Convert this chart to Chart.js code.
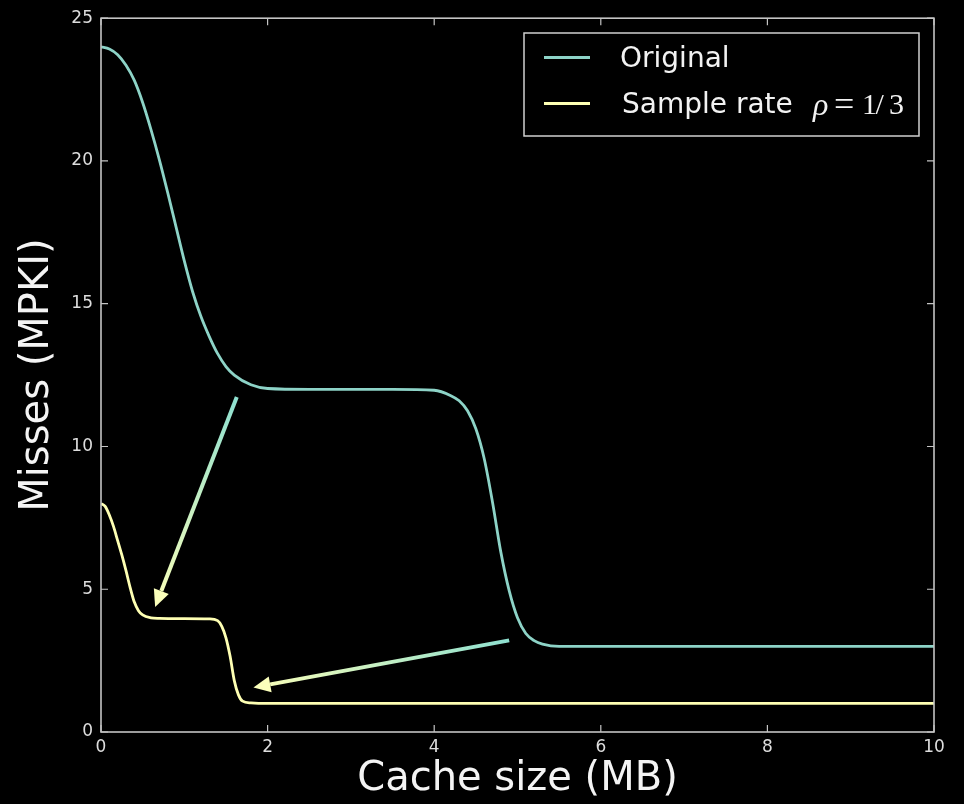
<!DOCTYPE html>
<html>
<head>
<meta charset="utf-8">
<script src="https://cdn.jsdelivr.net/npm/chart.js@4"></script>
<style>
  html, body { margin: 0; padding: 0; background: #000; }
  #wrap { width: 964px; height: 804px; }
</style>
</head>
<body>
<div id="wrap"><canvas id="missChart" width="964" height="804"></canvas></div>
<script>
// cache size (MB) and misses (MPKI)
const origX = [0, 0.1, 0.2, 0.3, 0.4, 0.5, 0.6, 0.7, 0.8, 0.9, 1.0, 1.1, 1.2, 1.3, 1.4, 1.5, 1.6, 1.8, 2.0, 2.5, 3.0, 3.5, 4.0, 4.2, 4.3, 4.4, 4.5, 4.6, 4.7, 4.8, 4.9, 5.0, 5.1, 5.2, 5.3, 5.5, 6, 7, 8, 9, 10];
const origY = [24.0, 23.92, 23.72, 23.35, 22.82, 22.05, 21.1, 20.05, 18.9, 17.7, 16.5, 15.42, 14.55, 13.85, 13.25, 12.8, 12.5, 12.16, 12.03, 12.0, 12.0, 12.0, 11.97, 11.78, 11.6, 11.25, 10.62, 9.58, 8.05, 6.3, 4.95, 4.0, 3.45, 3.2, 3.08, 3.0, 3.0, 3.0, 3.0, 3.0, 3.0];

const sampX = [0, 0.05, 0.1, 0.15, 0.2, 0.25, 0.3, 0.35, 0.4, 0.45, 0.5, 0.6, 0.7, 1.0, 1.3, 1.4, 1.45, 1.5, 1.55, 1.6, 1.65, 1.7, 1.8, 2.0, 3, 4, 6, 8, 10];
const sampY = [8.0, 7.9, 7.6, 7.2, 6.7, 6.2, 5.65, 5.06, 4.55, 4.25, 4.1, 4.0, 3.98, 3.97, 3.96, 3.9, 3.7, 3.3, 2.65, 1.8, 1.3, 1.08, 1.02, 1.0, 1.0, 1.0, 1.0, 1.0, 1.0];

const seriesLabels = ["Original", "Sample rate \u03C1=1/3"];
const seriesColors = ["#8dd3c7", "#feffb3"];

const xTicks = [0, 2, 4, 6, 8, 10];
const yTicks = [0, 5, 10, 15, 20, 25];

// arrows: [x, y] in data units, tail and tip
const arrowFrom = [[1.63, 11.73], [4.90, 3.21]];
const arrowTo = [[0.65, 4.38], [1.83, 1.56]];

function toPoints(xs, ys) {
  return xs.map((x, i) => ({ x: x, y: ys[i] }));
}

const SANS = "'DejaVu Sans', sans-serif";
const SERIF = "'Liberation Serif', serif";

// box round the plot with inward ticks on all four sides
const framePlugin = {
  id: "frame",
  afterDatasetsDraw(chart) {
    const { ctx, chartArea: a, scales } = chart;
    ctx.save();
    ctx.strokeStyle = "#c4c4c4";
    ctx.lineWidth = 1.6;
    ctx.strokeRect(a.left, a.top, a.right - a.left, a.bottom - a.top);
    ctx.lineWidth = 1.2;
    ctx.beginPath();
    xTicks.forEach(v => {
      const px = scales.x.getPixelForValue(v);
      ctx.moveTo(px, a.bottom); ctx.lineTo(px, a.bottom - 7);
      ctx.moveTo(px, a.top); ctx.lineTo(px, a.top + 7);
    });
    yTicks.forEach(v => {
      const py = scales.y.getPixelForValue(v);
      ctx.moveTo(a.left, py); ctx.lineTo(a.left + 7, py);
      ctx.moveTo(a.right, py); ctx.lineTo(a.right - 7, py);
    });
    ctx.stroke();
    ctx.restore();
  }
};

const arrowPlugin = {
  id: "arrows",
  afterDatasetsDraw(chart) {
    const { ctx, scales } = chart;
    ctx.save();
    arrowFrom.forEach((f, i) => {
      const t = arrowTo[i];
      const x0 = scales.x.getPixelForValue(f[0]), y0 = scales.y.getPixelForValue(f[1]);
      const x1 = scales.x.getPixelForValue(t[0]), y1 = scales.y.getPixelForValue(t[1]);
      const len = Math.hypot(x1 - x0, y1 - y0);
      const ux = (x1 - x0) / len, uy = (y1 - y0) / len;
      const headLen = 17, headW = 8;
      const bx = x1 - ux * headLen, by = y1 - uy * headLen;
      const grad = ctx.createLinearGradient(x0, y0, x1, y1);
      grad.addColorStop(0, "#8ee0d0");
      grad.addColorStop(1, "#fbffb8");
      ctx.strokeStyle = grad;
      ctx.lineWidth = 4;
      ctx.beginPath();
      ctx.moveTo(x0, y0);
      ctx.lineTo(bx, by);
      ctx.stroke();
      ctx.fillStyle = "#fbffbb";
      ctx.beginPath();
      ctx.moveTo(x1, y1);
      ctx.lineTo(bx - uy * headW, by + ux * headW);
      ctx.lineTo(bx + uy * headW, by - ux * headW);
      ctx.closePath();
      ctx.fill();
    });
    ctx.restore();
  }
};

const legendPlugin = {
  id: "boxLegend",
  afterDraw(chart) {
    const { ctx } = chart;
    const left = 524, top = 33, w = 395, h = 103;
    ctx.save();
    ctx.strokeStyle = "#d0d0d0";
    ctx.lineWidth = 1.5;
    ctx.strokeRect(left, top, w, h);
    chart.data.datasets.forEach((ds, i) => {
      const cy = 57.5 + i * 46;
      ctx.strokeStyle = ds.borderColor;
      ctx.lineWidth = 3;
      ctx.beginPath();
      ctx.moveTo(544, cy); ctx.lineTo(590, cy);
      ctx.stroke();
      ctx.fillStyle = "#f2f2f2";
      ctx.textBaseline = "middle";
      ctx.textAlign = "left";
      const label = ds.label;
      const k = label.indexOf("\u03C1");
      ctx.font = "28px " + SANS;
      if (k < 0) {
        ctx.fillText(label, 620, cy + 2);
      } else {
        ctx.fillText(label.slice(0, k), 622, cy + 2);
        // math part drawn glyph by glyph, roughly like mathtext
        ctx.font = "italic 32px " + SERIF;
        ctx.fillText("\u03C1", 813, cy + 3);
        ctx.font = "36px " + SERIF;
        ctx.fillText("=", 834, cy + 3);
        ctx.font = "30px " + SERIF;
        const rest = label.slice(k + 2);
        [...rest].forEach((c, j) => ctx.fillText(c, 862 + j * 13.5, cy + 3));
      }
    });
    ctx.restore();
  }
};

new Chart(document.getElementById("missChart"), {
  type: "line",
  data: {
    datasets: [
      {
        label: seriesLabels[0],
        data: toPoints(origX, origY),
        borderColor: seriesColors[0],
        borderWidth: 2.8,
        pointRadius: 0,
        cubicInterpolationMode: "monotone",
        fill: false
      },
      {
        label: seriesLabels[1],
        data: toPoints(sampX, sampY),
        borderColor: seriesColors[1],
        borderWidth: 2.8,
        pointRadius: 0,
        cubicInterpolationMode: "monotone",
        fill: false
      }
    ]
  },
  options: {
    responsive: false,
    animation: false,
    events: [],
    layout: { padding: { top: 16, right: 30, left: 0, bottom: 0 } },
    plugins: { legend: { display: false }, tooltip: { enabled: false } },
    scales: {
      x: {
        type: "linear",
        min: 0,
        max: 10,
        afterFit(scale) { scale.height = 72; },
        afterBuildTicks(scale) { scale.ticks = xTicks.map(v => ({ value: v })); },
        grid: { display: false, drawTicks: false },
        border: { display: false },
        ticks: { color: "#dddddd", font: { family: SANS, size: 17 }, padding: 5, maxRotation: 0 },
        title: { display: true, text: "Cache size (MB)", color: "#f4f4f4", font: { family: SANS, size: 40 }, padding: { top: 0, bottom: 0 } }
      },
      y: {
        min: 0,
        max: 25,
        afterFit(scale) { scale.width = 101; },
        afterBuildTicks(scale) { scale.ticks = yTicks.map(v => ({ value: v })); },
        grid: { display: false, drawTicks: false },
        border: { display: false },
        ticks: { color: "#dddddd", font: { family: SANS, size: 17 }, padding: 8 },
        title: { display: true, text: "Misses (MPKI)", color: "#f4f4f4", font: { family: SANS, size: 40 }, padding: { top: 14, bottom: 0 } }
      }
    }
  },
  plugins: [framePlugin, arrowPlugin, legendPlugin]
});
</script>
</body>
</html>
